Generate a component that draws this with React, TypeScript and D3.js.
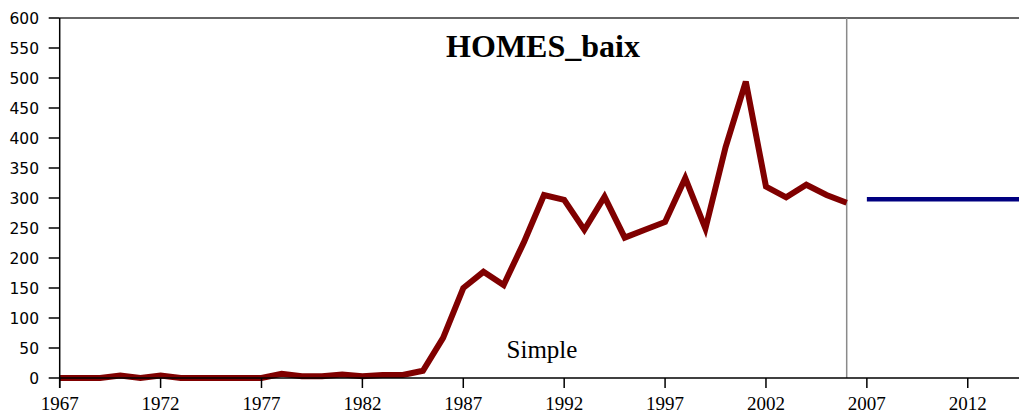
import React from "react";
import * as d3 from "d3";

const years: number[] = [
  1967, 1968, 1969, 1970, 1971, 1972, 1973, 1974, 1975, 1976,
  1977, 1978, 1979, 1980, 1981, 1982, 1983, 1984, 1985, 1986,
  1987, 1988, 1989, 1990, 1991, 1992, 1993, 1994, 1995, 1996,
  1997, 1998, 1999, 2000, 2001, 2002, 2003, 2004, 2005, 2006,
];
const homesBaix: number[] = [
  0, 0, 0, 4, 0, 4, 0, 0, 0, 0,
  0, 7, 3, 3, 6, 3, 5, 5, 12, 67,
  150, 177, 155, 226, 305, 297, 247, 302, 234, 247,
  260, 333, 249, 385, 494, 319, 301, 322, 305, 292,
];
const forecastYears: number[] = [2007, 2008, 2009, 2010, 2011, 2012, 2013, 2014, 2015];
const forecastValues: number[] = [298, 298, 298, 298, 298, 298, 298, 298, 298];
const yTicks: number[] = [0, 50, 100, 150, 200, 250, 300, 350, 400, 450, 500, 550, 600];
const xTicks: number[] = [1967, 1972, 1977, 1982, 1987, 1992, 1997, 2002, 2007, 2012];
const splitYear = 2006;
const title = "HOMES_baix";
const subLabel = "Simple";

export default function App() {
  const W = 1019;
  const H = 414;
  const x = d3.scaleLinear().domain([1967, 2015]).range([59.7, 1028.3]);
  const y = d3.scaleLinear().domain([0, 600]).range([378, 18]);

  const line = d3
    .line<[number, number]>()
    .x((d) => x(d[0]))
    .y((d) => y(d[1]))
    .curve(d3.curveLinear);

  const hist = line(years.map((yr, i) => [yr, homesBaix[i]] as [number, number])) || "";
  const fc = line(forecastYears.map((yr, i) => [yr, forecastValues[i]] as [number, number])) || "";

  return (
    <svg
      width={W}
      height={H}
      style={{ position: "absolute", left: 0, top: 0, background: "#fff" }}
    >
      <rect x={0} y={0} width={W} height={H} fill="#fff" />
      <line x1={x(1967)} x2={W} y1={y(600)} y2={y(600)} stroke="#333" strokeWidth={1.5} />
      <line x1={x(splitYear)} x2={x(splitYear)} y1={y(600)} y2={y(0)} stroke="#8a8a8a" strokeWidth={1.5} />
      <text
        x={543}
        y={57}
        textAnchor="middle"
        fontFamily="'Liberation Serif', 'DejaVu Serif', serif"
        fontWeight="bold"
        fontSize={32}
        fill="#000"
      >
        {title}
      </text>
      <text
        x={542}
        y={358}
        textAnchor="middle"
        fontFamily="'Liberation Serif', 'DejaVu Serif', serif"
        fontSize={25}
        fill="#000"
      >
        {subLabel}
      </text>
      <path d={hist} fill="none" stroke="#800000" strokeWidth={6} strokeLinejoin="miter" strokeLinecap="butt" />
      <path d={fc} fill="none" stroke="#000080" strokeWidth={4.5} strokeLinecap="butt" />
      <line x1={x(1967)} x2={x(1967)} y1={y(600)} y2={y(0) + 10} stroke="#000" strokeWidth={1.5} />
      <line x1={x(1967)} x2={W} y1={y(0)} y2={y(0)} stroke="#000" strokeWidth={1.5} />
      {yTicks.map((t) => (
        <g key={"y" + t}>
          <line x1={x(1967) - 11} x2={x(1967)} y1={y(t)} y2={y(t)} stroke="#000" strokeWidth={1.5} />
          <text
            x={39}
            y={y(t)}
            dy="0.36em"
            textAnchor="end"
            fontFamily="'DejaVu Sans', Verdana, sans-serif"
            fontSize={15.5}
            fill="#000"
          >
            {t}
          </text>
        </g>
      ))}
      {xTicks.map((t) => (
        <g key={"x" + t}>
          <line x1={x(t)} x2={x(t)} y1={y(0)} y2={y(0) + 10} stroke="#000" strokeWidth={1.5} />
          <text
            x={x(t)}
            y={410}
            textAnchor="middle"
            fontFamily="'Liberation Serif', 'DejaVu Serif', serif"
            fontSize={19}
            fill="#000"
          >
            {t}
          </text>
        </g>
      ))}
    </svg>
  );
}
